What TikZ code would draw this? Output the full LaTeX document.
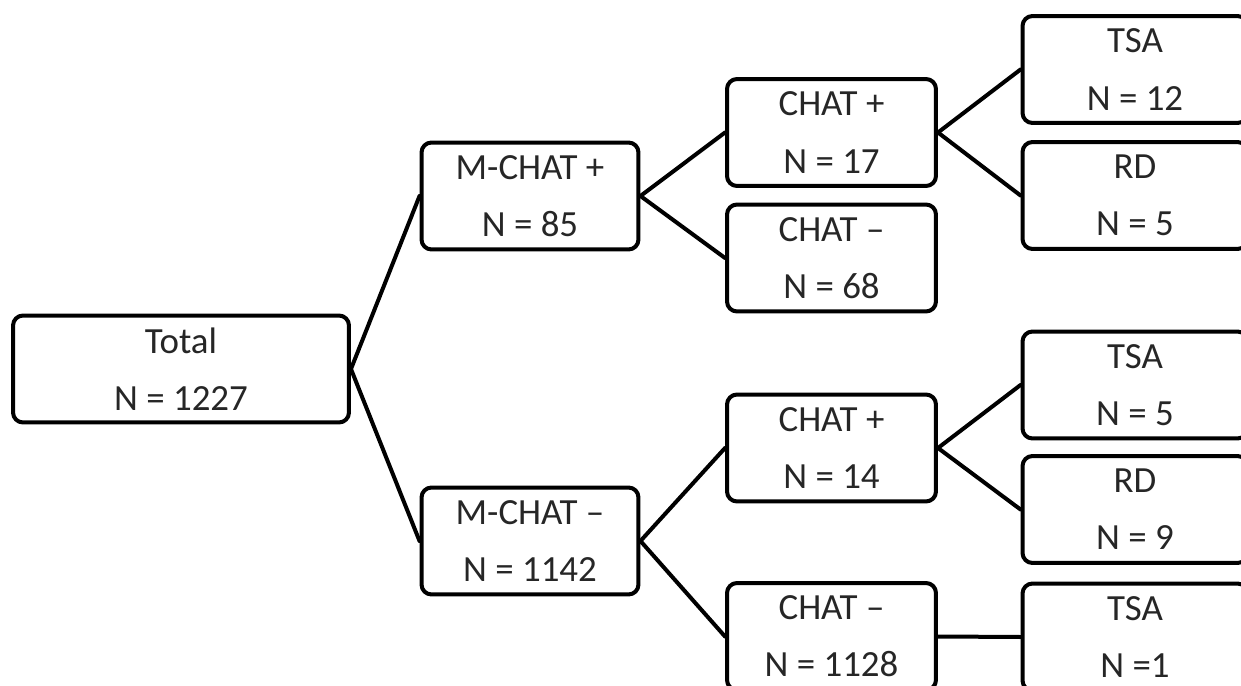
\documentclass[tikz,border=0pt]{standalone}
\usepackage{fontspec}
\setmainfont{Carlito}
\begin{document}
\begin{tikzpicture}[x=0.02cm,y=-0.02cm,line join=round,line cap=round,
	hop/.style={draw,line width=0.08cm,rounded corners=0.2cm,align=center,inner sep=0pt,
		minimum height=2.14cm,text=black!85,font=\fontsize{21}{32.5}\selectfont},
	leaf/.style={hop,minimum width=4.5cm},
	link/.style={line width=0.08cm}]
	\useasboundingbox (0,0) rectangle (1241,686);
	\clip (0,0) rectangle (1241,686);
	\path
	(181,369)coordinate(T)
	(530,196)coordinate(MP) (530,541)coordinate(MM)
	(831.5,132.5)coordinate(PP) (831.5,258)coordinate(PM)
	(831.5,448)coordinate(MP') (831.5,636.5)coordinate(MM')
	;
	%%Boxes
	\node[hop,minimum width=6.72cm] (tot) at (T) {Total\\N = 1227};
	\node[hop,minimum width=4.34cm] (mp) at (MP) {M-CHAT +\\N = 85};
	\node[hop,minimum width=4.34cm] (mm) at (MM) {M-CHAT –\\N = 1142};
	\node[hop,minimum width=4.18cm] (cpp) at (PP) {CHAT +\\N = 17};
	\node[hop,minimum width=4.18cm] (cpm) at (PM) {CHAT –\\N = 68};
	\node[hop,minimum width=4.18cm] (cmp) at (MP') {CHAT +\\N = 14};
	\node[hop,minimum width=4.18cm] (cmm) at (MM') {CHAT –\\N = 1128};
	%%Leaves
	\foreach \n/\y/\t in {tsa1/69.5/{TSA\\N = 12},rd1/195.5/{RD\\N = 5},tsa2/385/{TSA\\N = 5},rd2/509.5/{RD\\N = 9},tsa3/637/{TSA\\N =1}}{
		\node[leaf] (\n) at (1135,\y) {\t};
	}
	%%Links
	\foreach \a/\b in {tot/mp,tot/mm,mp/cpp,mp/cpm,mm/cmp,mm/cmm,cpp/tsa1,cpp/rd1,cmp/tsa2,cmp/rd2,cmm/tsa3}{
		\draw[link] (\a.east)--(\b.west);
	}
\end{tikzpicture}
\end{document}
